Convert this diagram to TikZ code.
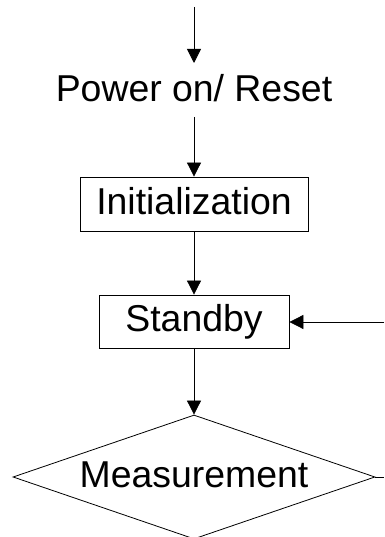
\documentclass[tikz,border=0pt]{standalone}
\usepackage{fontspec}
\setmainfont{Liberation Sans}
\usetikzlibrary{arrows.meta,shapes.geometric}
\begin{document}
\begin{tikzpicture}[x=1pt,y=1pt,
  lbl/.style={font=\fontsize{37.4}{41}\selectfont, text height=26.8pt, text depth=6pt, inner sep=0pt},
  stepbox/.style={lbl, draw, line width=0.8pt},
  conn/.style={line width=0.8pt, -{Triangle[length=14pt,width=14pt]}},
  plain/.style={line width=0.8pt}]
\useasboundingbox (0,0) rectangle (384,537);
\coordinate (top) at (194,530);
\node[lbl, anchor=base] (pwr) at (194,435.5) {Power on/ Reset};
\node[stepbox, minimum width=228pt, minimum height=54pt] (init) at (194,333) {Initialization};
\node[stepbox, minimum width=190pt, minimum height=53pt] (stby) at (194,215.5) {Standby};
\node[lbl, draw, line width=0.8pt, shape=diamond, aspect=2.92, minimum width=362pt, minimum height=124pt] (meas) at (194,60) {Measurement};
\coordinate (rin) at (384,215);
\coordinate (rout) at (384,60);
\draw[conn] (top) -- (194,474);
\draw[conn] (194,420) -- (init.north);
\draw[conn] (init.south) -- (stby.north);
\draw[conn] (rin) -- (stby.east |- rin);
\draw[conn] (stby.south) -- (meas.north);
\draw[plain] (meas.east) -- (rout);
\end{tikzpicture}
\end{document}
